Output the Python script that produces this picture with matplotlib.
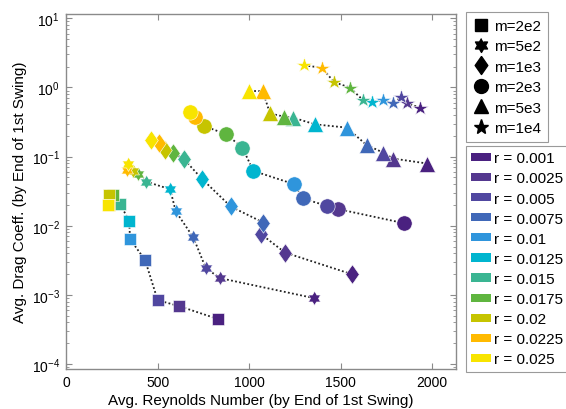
import numpy as np
import matplotlib
matplotlib.use("Agg")
import matplotlib.pyplot as plt
from matplotlib.lines import Line2D
from matplotlib.patches import Patch

plt.rcParams['font.family'] = ['Liberation Sans', 'DejaVu Sans']

# radius values (one colour per radius)
r_values = [0.001, 0.0025, 0.005, 0.0075, 0.01, 0.0125, 0.015, 0.0175, 0.02, 0.0225, 0.025]
r_labels = ["r = 0.001", "r = 0.0025", "r = 0.005", "r = 0.0075", "r = 0.01", "r = 0.0125",
            "r = 0.015", "r = 0.0175", "r = 0.02", "r = 0.0225", "r = 0.025"]
r_colors = ['#4a2180', '#54388f', '#5047a0', '#4068b8', '#2f95dc', '#00b5cf',
            '#3ab592', '#5fb53f', '#c6c400', '#ffba00', '#f8e400']

m_labels = ["m=2e2", "m=5e2", "m=1e3", "m=2e3", "m=5e3", "m=1e4"]

# Reynolds number and drag coefficient per mass, ordered by r_values
re_m2e2 = [827, 616, 499, 430, 348, 343, 293, 257, 235, 232, 229]
cd_m2e2 = [4.5e-4, 6.9e-4, 8.4e-4, 0.0032, 0.0064, 0.0119, 0.0205, 0.0277, 0.0277, 0.0199, 0.0198]

re_m5e2 = [1354, 840, 762, 694, 598, 567, 435, 390, 363, 330, 339]
cd_m5e2 = [9.0e-4, 0.00175, 0.00244, 0.00678, 0.0161, 0.0337, 0.0435, 0.0556, 0.062, 0.0641, 0.0774]

re_m1e3 = [1559, 1195, 1064, 1077, 898, 743, 643, 585, 539, 507, 461]
cd_m1e3 = [0.0020, 0.0041, 0.00757, 0.0111, 0.019, 0.047, 0.0914, 0.112, 0.125, 0.156, 0.172]

re_m2e3 = [1845, 1486, 1423, 1292, 1246, 1022, 962, 873, 752, 703, 676]
cd_m2e3 = [0.0109, 0.0174, 0.0194, 0.0248, 0.0398, 0.062, 0.135, 0.21, 0.277, 0.377, 0.44]

re_m5e3 = [1973, 1787, 1732, 1641, 1532, 1359, 1240, 1190, 1113, 1073, 1000]
cd_m5e3 = [0.0793, 0.0935, 0.114, 0.147, 0.262, 0.292, 0.365, 0.377, 0.42, 0.885, 0.885]

re_m1e4 = [1933, 1863, 1829, 1787, 1732, 1672, 1623, 1550, 1464, 1396, 1301]
cd_m1e4 = [0.509, 0.588, 0.724, 0.588, 0.649, 0.614, 0.649, 0.99, 1.19, 1.92, 2.08]

# six-pointed star (hexagram) marker outline
ang = np.pi / 2 + np.arange(12) * np.pi / 6
rad = np.where(np.arange(12) % 2 == 0, 1.0, 0.577)
hexagram = np.column_stack([rad * np.cos(ang), rad * np.sin(ang)])

# narrow diamond marker outline
diamond = [(0, 1), (0.7, 0), (0, -1), (-0.7, 0), (0, 1)]

series = [
    (re_m2e2, cd_m2e2, 's', 8.5),
    (re_m5e2, cd_m5e2, hexagram, 10),
    (re_m1e3, cd_m1e3, diamond, 14),
    (re_m2e3, cd_m2e3, 'o', 11),
    (re_m5e3, cd_m5e3, '^', 12),
    (re_m1e4, cd_m1e4, '*', 11.5),
]

fig = plt.figure(figsize=(5.66, 4.10), dpi=100)
ax = fig.add_axes([65.5 / 566, 40 / 410, (456 - 65.5) / 566, (395 - 40) / 410])

for re, cd, mk, ms in series:
    ax.plot(re, cd, color='#222222', lw=1.3, ls=(0, (1, 1.3)), zorder=1)
    for x, y, c in zip(re, cd, r_colors):
        ax.plot([x], [y], marker=mk, ms=ms, color=c, mec='white', mew=0.4,
                ls='none', zorder=2)

ax.set_yscale('log')
ax.set_xlim(-5, 2130)
ax.set_ylim(10 ** -4.07, 10 ** 1.06)
ax.set_xticks([0, 500, 1000, 1500, 2000])

for s in ax.spines.values():
    s.set_color('#8a8a8a')
    s.set_linewidth(1.0)
ax.tick_params(which='both', direction='in', top=True, right=True, color='#8a8a8a',
               labelsize=10, pad=4)
ax.tick_params(which='major', length=4)
ax.tick_params(which='minor', length=2.5)
ax.tick_params(axis='x', which='minor', top=False, bottom=False)

ax.set_xlabel("Avg. Reynolds Number (by End of 1st Swing)", fontsize=11, labelpad=3)
ax.set_ylabel("Avg. Drag Coeff. (by End of 1st Swing)", fontsize=11, labelpad=3)

# mass legend (marker shapes)
m_markers = ['s', hexagram, diamond, 'o', '^', '*']
m_sizes = [8, 10, 13, 10, 10, 11]
m_handles = [Line2D([], [], marker=mk, ms=sz, color='black', ls='none')
             for mk, sz in zip(m_markers, m_sizes)]
leg1 = fig.legend(m_handles, m_labels, loc='upper left',
                  bbox_to_anchor=(466 / 566, 1 - 13 / 410), borderaxespad=0,
                  fontsize=11, frameon=True, fancybox=False, edgecolor='#9a9a9a',
                  framealpha=1, handlelength=1.0, handletextpad=0.4,
                  labelspacing=0.42, borderpad=0.45)
leg1.get_frame().set_linewidth(0.8)

# radius legend (colour patches)
r_handles = [Patch(facecolor=c, edgecolor='none') for c in r_colors]
leg2 = fig.legend(r_handles, r_labels, loc='upper left',
                  bbox_to_anchor=(466 / 566, 1 - 147 / 410), borderaxespad=0,
                  fontsize=11, frameon=True, fancybox=False, edgecolor='#9a9a9a',
                  framealpha=1, handlelength=1.3, handleheight=0.45,
                  handletextpad=0.2, labelspacing=0.40, borderpad=0.35)
leg2.get_frame().set_linewidth(0.8)

fig.savefig("out.png", dpi=100)
